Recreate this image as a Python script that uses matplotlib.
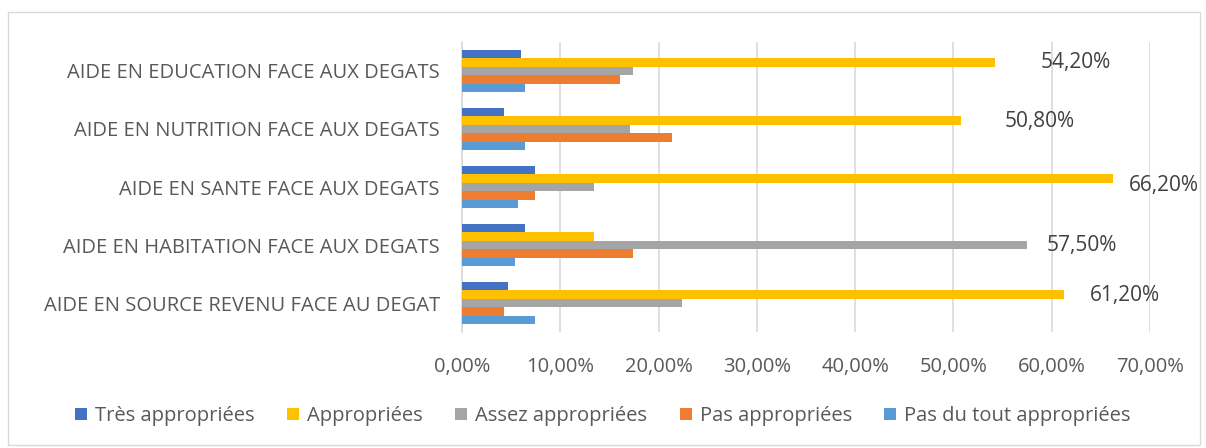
import matplotlib.pyplot as plt
import numpy as np
from matplotlib.patches import Rectangle

plt.rcParams["font.family"] = ["Open Sans", "DejaVu Sans"]

categories = [
    "AIDE EN EDUCATION FACE AUX DEGATS",
    "AIDE EN NUTRITION FACE AUX DEGATS",
    "AIDE EN SANTE FACE AUX DEGATS",
    "AIDE EN HABITATION FACE AUX DEGATS",
    "AIDE EN SOURCE REVENU FACE AU DEGAT",
]
series_names = ["Très appropriées", "Appropriées", "Assez appropriées",
                "Pas appropriées", "Pas du tout appropriées"]
tres = [6.0, 4.3, 7.4, 6.4, 4.7]
appropriees = [54.2, 50.8, 66.2, 13.4, 61.2]
assez = [17.4, 17.1, 13.4, 57.5, 22.4]
pas = [16.1, 21.4, 7.4, 17.4, 4.3]
pas_du_tout = [6.4, 6.4, 5.7, 5.4, 7.4]
colors = ["#4472C4", "#FFC000", "#A5A5A5", "#ED7D31", "#5B9BD5"]
xticks = [0, 10, 20, 30, 40, 50, 60, 70]
# data labels were dragged by hand in the original, keep their offsets (points)
label_dx = [33, 31, 12, 14, 19]
label_dy = [0, -1, -5, 0, -1]

series = [tres, appropriees, assez, pas, pas_du_tout]

fig = plt.figure(figsize=(12.06, 4.48), dpi=100)
ax = fig.add_axes([462 / 1206, 1 - 332 / 448, (1150 - 462) / 1206, 290 / 448])

n = len(series)
h = 0.148
y = np.arange(len(categories))
for i, (vals, name, c) in enumerate(zip(series, series_names, colors)):
    offs = (i - (n - 1) / 2) * h
    ax.barh(y + offs, vals, height=h, color=c, label=name, zorder=3)

# label the largest bar in each group
data = np.array(series)
for j in range(len(categories)):
    i = int(np.argmax(data[:, j]))
    v = data[i, j]
    offs = (i - (n - 1) / 2) * h
    ax.annotate(f"{v:.2f}%".replace(".", ","), (v, y[j] + offs),
                xytext=(label_dx[j], label_dy[j]), textcoords="offset points",
                va="center", ha="left", fontsize=15, color="#404040")

ax.set_ylim(len(categories) - 0.5, -0.5)
ax.set_xlim(0, 70)
ax.set_xticks(xticks)
ax.set_xticklabels([f"{t:.2f}%".replace(".", ",") for t in xticks])
ax.set_yticks(y)
ax.set_yticklabels(categories)
ax.tick_params(axis="both", length=0, labelsize=14.5, colors="#595959")
ax.tick_params(axis="x", pad=18)
ax.tick_params(axis="y", pad=16)
ax.grid(axis="x", color="#D9D9D9", lw=1.2, zorder=0)
for s in ["top", "right", "bottom"]:
    ax.spines[s].set_visible(False)
ax.spines["left"].set_color("#D9D9D9")
ax.spines["left"].set_linewidth(1.2)

fig.legend(loc="center", bbox_to_anchor=(0.5, 1 - 416 / 448), ncol=5,
           frameon=False, fontsize=14.5, handlelength=0.6, handleheight=0.6,
           columnspacing=1.6, handletextpad=0.4, labelcolor="#595959")

fig.patches.append(Rectangle((8 / 1206, 3 / 448), 1192 / 1206, 433 / 448,
                             transform=fig.transFigure, fill=False,
                             edgecolor="#D9D9D9", lw=1))

fig.savefig("out.png", dpi=100)
